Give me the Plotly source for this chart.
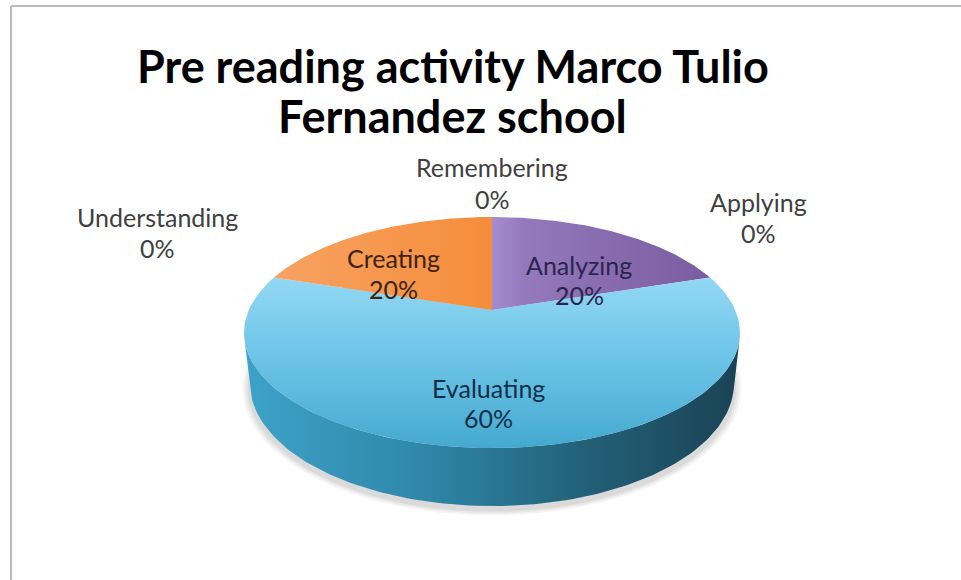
import numpy as np
import plotly.graph_objects as go

# ---- data ----
categories = ["Remembering", "Understanding", "Applying", "Analyzing", "Evaluating", "Creating"]
values = [0, 0, 0, 20, 60, 20]
title_lines = ["Pre reading activity Marco Tulio", "Fernandez school"]

# ---- styles ----
top_styles = {
    "Analyzing": dict(type="horizontal", colorscale=[[0, "#a58bcf"], [0.15, "#9479bd"], [1, "#7a5b9f"]]),
    "Evaluating": dict(type="vertical", colorscale=[[0, "#93d8f3"], [0.45, "#6ec5e8"], [1, "#45a9cf"]]),
    "Creating": dict(type="horizontal", colorscale=[[0, "#f8a262"], [1, "#f58d3a"]]),
}
side_style = dict(type="horizontal", colorscale=[[0, "#3ea2c8"], [0.35, "#2f88aa"], [0.7, "#225f77"], [1, "#1b4254"]])
label_colors = {"Analyzing": "#2a2450", "Evaluating": "#10304a", "Creating": "#3a2412"}
outside_color = "#404040"

# label text anchor positions (pixel space)
label_pos = {
    "Remembering": (492, 167, 199),
    "Understanding": (157, 217, 248),
    "Applying": (758, 202, 233),
    "Analyzing": (579, 265, 295),
    "Evaluating": (488, 388, 418),
    "Creating": (393, 258, 289),
}

# ---- projection of a tilted 3-D disc ----
W, H = 961, 580
VX, VY = 492, 310          # screen position of the pie centre
F, D = 1109.0, 4.56        # focal length, camera distance
ELEV = np.radians(27.2)    # viewing elevation
THICK = 0.237              # pie thickness
ce, se = np.cos(ELEV), np.sin(ELEV)


def proj(X, Y, Z):
    depth = D + Z * ce - Y * se
    up = Y * ce + Z * se
    return VX + F * X / depth, VY - F * up / depth


def arc(t1, t2, Y, n=120):
    t = np.linspace(t1, t2, n)
    return proj(np.sin(t), Y, np.cos(t))


total = sum(values)
fr = np.array(values) / total
cum = np.concatenate([[0], np.cumsum(fr)]) * 2 * np.pi

# visible range of the cylindrical side
tv = np.arccos(-1.0 / (D * ce))
vis1, vis2 = tv, 2 * np.pi - tv

fig = go.Figure()

# soft shadow under the pie
for k, op in [(1.03, 0.04), (1.02, 0.05), (1.01, 0.06)]:
    t = np.linspace(0, 2 * np.pi, 200)
    sx, sy = proj(k * np.sin(t), -THICK, k * np.cos(t))
    fig.add_trace(go.Scatter(x=sx, y=sy + 4, mode="lines", line=dict(width=0), fill="toself",
                             fillcolor=f"rgba(0,0,0,{op})", hoverinfo="skip", showlegend=False))

# sides
for i, cat in enumerate(categories):
    if values[i] == 0:
        continue
    a, b = max(cum[i], vis1), min(cum[i + 1], vis2)
    if a >= b:
        continue
    tx, ty = arc(a, b, 0.0)
    bx, by = arc(b, a, -THICK)
    xs = np.concatenate([tx, bx, tx[:1]])
    ys = np.concatenate([ty, by, ty[:1]])
    fig.add_trace(go.Scatter(x=xs, y=ys, mode="lines", line=dict(width=0), fill="toself",
                             fillcolor="#2a7fa0",
                             fillgradient=dict(side_style, start=float(xs.min()), stop=float(xs.max())),
                             hoverinfo="skip", showlegend=False))

# top faces
for i, cat in enumerate(categories):
    if values[i] == 0:
        continue
    ax_, ay_ = arc(cum[i], cum[i + 1], 0.0)
    xs = np.concatenate([[VX], ax_, [VX]])
    ys = np.concatenate([[VY], ay_, [VY]])
    st = top_styles[cat]
    if st["type"] == "horizontal":
        s0, s1 = float(xs.min()), float(xs.max())
    else:
        s0, s1 = float(ys.min()), float(ys.max())
    fig.add_trace(go.Scatter(x=xs, y=ys, mode="lines", line=dict(width=0), fill="toself",
                             fillcolor=st["colorscale"][0][1],
                             fillgradient=dict(st, start=s0, stop=s1),
                             hoverinfo="skip", showlegend=False, name=cat))

# labels
for i, cat in enumerate(categories):
    x0, y1, y2 = label_pos[cat]
    pct = f"{round(values[i] / total * 100)}%"
    col = label_colors.get(cat, outside_color)
    for txt, yy in [(cat, y1), (pct, y2)]:
        fig.add_annotation(x=x0, y=yy, xref="x", yref="y", text=txt, showarrow=False,
                           xanchor="center", yanchor="middle",
                           font=dict(family="Lato", size=25, color=col))

# title
for txt, yy in zip(title_lines, [66, 116]):
    fig.add_annotation(x=452.5, y=yy, xref="x", yref="y", text=f"<b>{txt}</b>", showarrow=False,
                       xanchor="center", yanchor="middle",
                       font=dict(family="Lato", size=45, color="#000000"))

# chart frame
fig.add_shape(type="line", x0=11, x1=W + 5, y0=6, y1=6, xref="x", yref="y",
              line=dict(color="#bcbcbc", width=2))
fig.add_shape(type="line", x0=11, x1=11, y0=6, y1=H + 5, xref="x", yref="y",
              line=dict(color="#bcbcbc", width=2))

fig.update_layout(
    width=W, height=H, autosize=False,
    margin=dict(l=0, r=0, t=0, b=0),
    paper_bgcolor="white", plot_bgcolor="white",
    xaxis=dict(range=[0, W], visible=False, fixedrange=True),
    yaxis=dict(range=[H, 0], visible=False, fixedrange=True),
    showlegend=False,
)
fig.write_html("out.html", config={"displayModeBar": False, "staticPlot": True},
               post_script="document.body.style.margin='0';document.body.style.overflow='hidden';")
